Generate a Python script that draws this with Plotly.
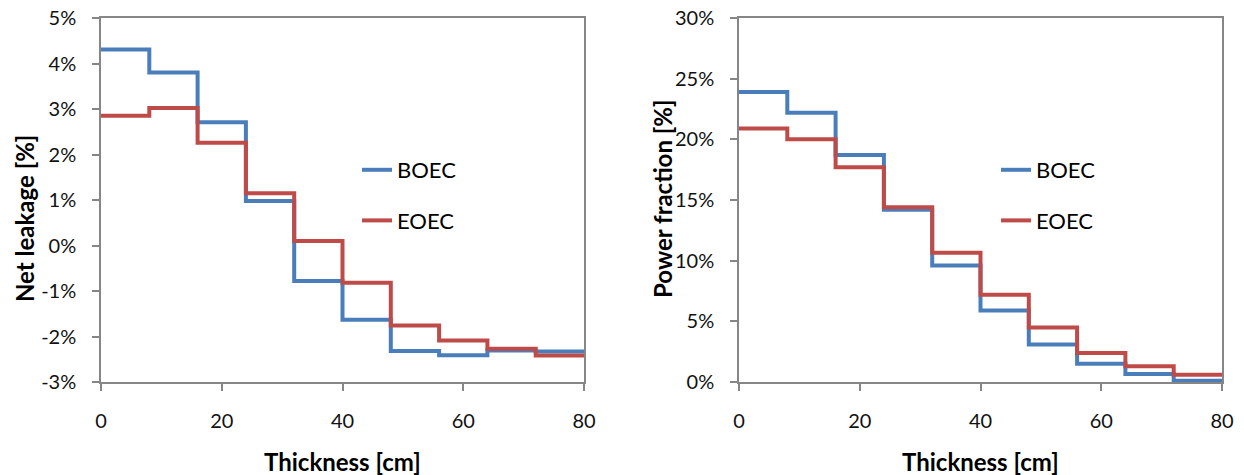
import plotly.graph_objects as go

# Bin edges along the thickness (cm); each step covers 8 cm
thickness_edges = [0, 8, 16, 24, 32, 40, 48, 56, 64, 72, 80]

# Net leakage per bin [%]
leak_boec = [4.31, 3.80, 2.71, 0.98, -0.78, -1.63, -2.32, -2.41, -2.31, -2.33]
leak_eoec = [2.85, 3.02, 2.26, 1.15, 0.10, -0.82, -1.76, -2.09, -2.27, -2.42]

# Power fraction per bin [%]
power_boec = [23.9, 22.2, 18.7, 14.2, 9.6, 5.9, 3.1, 1.5, 0.65, 0.1]
power_eoec = [20.9, 20.0, 17.7, 14.4, 10.65, 7.2, 4.5, 2.4, 1.3, 0.6]

leak_ticks = [-3, -2, -1, 0, 1, 2, 3, 4, 5]
power_ticks = [0, 5, 10, 15, 20, 25, 30]
x_ticks = [0, 20, 40, 60, 80]

BLUE = "#4A7EBB"
RED = "#BE4B48"
AXIS = "#868686"
FONT = "Lato, 'Open Sans', sans-serif"


def steps(vals):
    # repeat the last bin value so the 'hv' step reaches the final edge
    return list(vals) + [vals[-1]]


fig = go.Figure()

series = [
    (leak_boec, "BOEC", BLUE, "x", "y", "legend"),
    (leak_eoec, "EOEC", RED, "x", "y", "legend"),
    (power_boec, "BOEC", BLUE, "x2", "y2", "legend2"),
    (power_eoec, "EOEC", RED, "x2", "y2", "legend2"),
]
for i, (vals, name, color, xa, ya, leg) in enumerate(series):
    fig.add_trace(go.Scatter(
        x=thickness_edges, y=steps(vals), name=name, mode="lines",
        line=dict(color=color, width=4, shape="hv"),
        xaxis=xa, yaxis=ya, legend=leg, legendgroup=f"g{i}",
    ))

axis_common = dict(
    showgrid=False, zeroline=False, showline=True, linecolor=AXIS,
    linewidth=1.5, mirror=True, ticks="outside", tickcolor=AXIS,
    ticklen=7, tickwidth=1.5, automargin=False,
    tickfont=dict(family=FONT, size=20, color="#111111"),
)

legend_common = dict(
    xanchor="left", yanchor="top", bgcolor="rgba(0,0,0,0)",
    font=dict(family=FONT, size=22, color="black"), tracegroupgap=19,
)

fig.update_layout(
    width=1244, height=475,
    margin=dict(l=0, r=0, t=0, b=0),
    paper_bgcolor="white", plot_bgcolor="white",
    font=dict(family=FONT, color="black"),
    xaxis=dict(domain=[101 / 1244, 584 / 1244], range=[0, 80],
               tickvals=x_ticks, ticklabelstandoff=13, anchor="y",
               **axis_common),
    yaxis=dict(domain=[93 / 475, 457 / 475], range=[-3, 5],
               tickvals=leak_ticks,
               ticktext=[f"{t}%" for t in leak_ticks],
               ticklabelstandoff=12, anchor="x", **axis_common),
    xaxis2=dict(domain=[739 / 1244, 1222 / 1244], range=[0, 80],
                tickvals=x_ticks, ticklabelstandoff=13, anchor="y2",
                **axis_common),
    yaxis2=dict(domain=[93 / 475, 457 / 475], range=[0, 30],
                tickvals=power_ticks,
                ticktext=[f"{t}%" for t in power_ticks],
                ticklabelstandoff=12, anchor="x2", **axis_common),
    legend=dict(x=357 / 1244, y=(475 - 149) / 475, **legend_common),
    legend2=dict(x=996 / 1244, y=(475 - 149) / 475, **legend_common),
)

title_font = dict(family=FONT, size=24, color="black")
annotations = [
    dict(text="<b>Thickness [cm]</b>", x=(101 + 584) / 2 / 1244, y=14 / 475),
    dict(text="<b>Thickness [cm]</b>", x=(739 + 1222) / 2 / 1244, y=14 / 475),
    dict(text="<b>Net leakage [%]</b>", x=24 / 1244, y=256 / 475, textangle=-90),
    dict(text="<b>Power fraction [%]</b>", x=662 / 1244, y=276 / 475, textangle=-90),
]
for a in annotations:
    fig.add_annotation(xref="paper", yref="paper", showarrow=False,
                       xanchor="center", yanchor="middle", font=title_font, **a)

fig.write_html("out.html")
